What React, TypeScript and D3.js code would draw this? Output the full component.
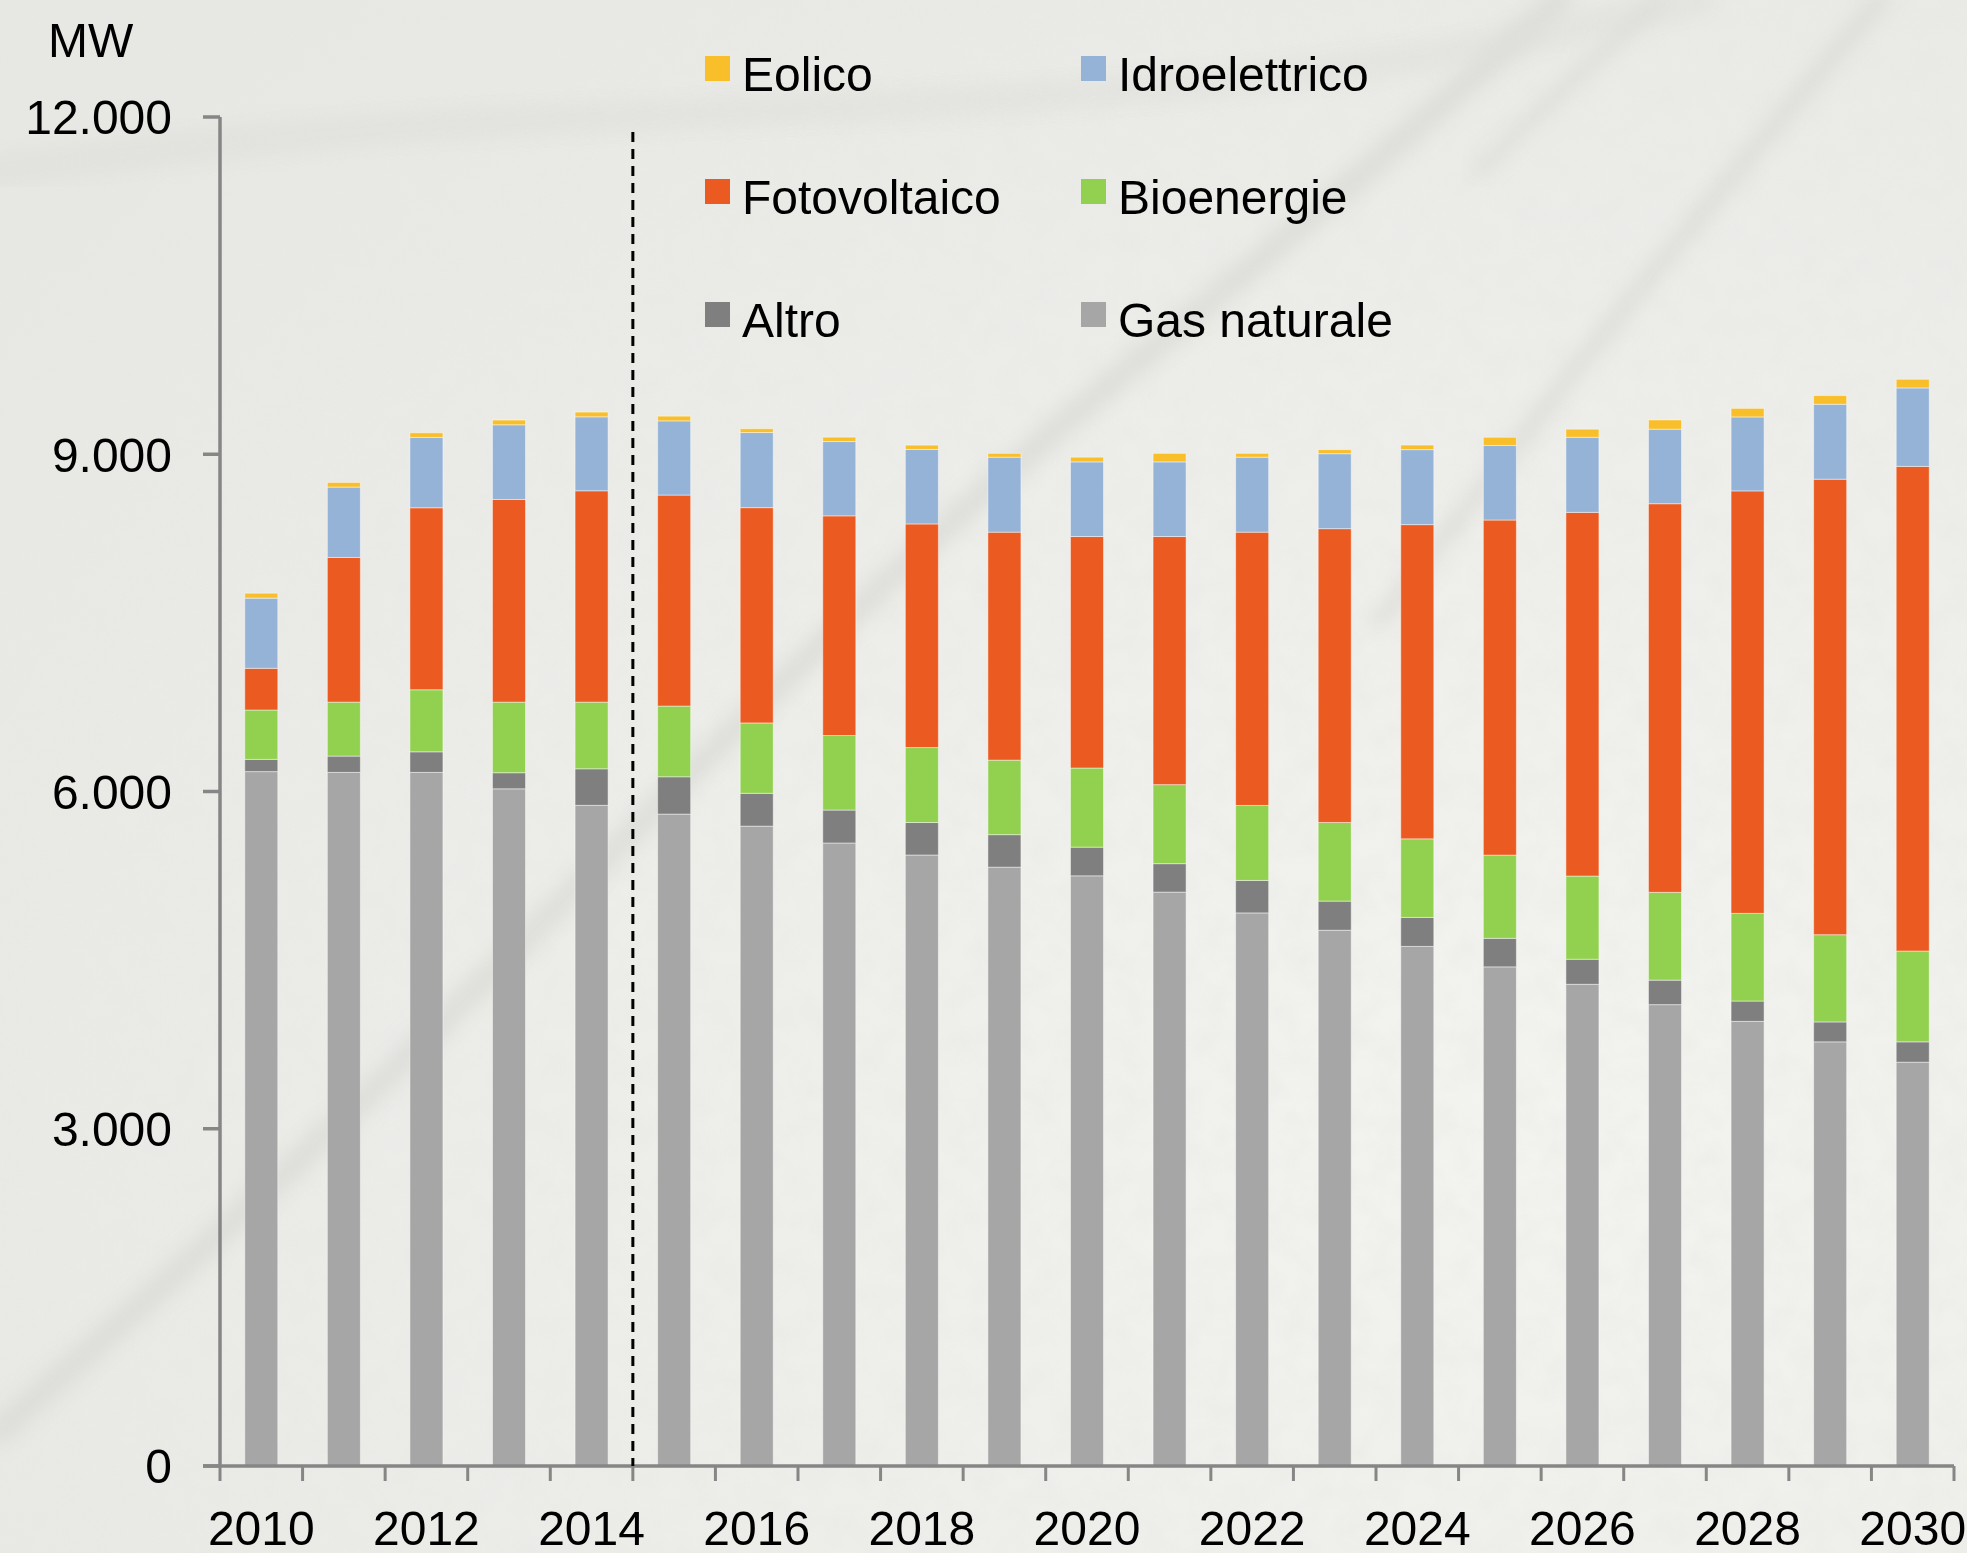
import React from 'react';
import * as d3 from 'd3';

// anni e valori (MW)
const years = ['2010','2011','2012','2013','2014','2015','2016','2017','2018','2019','2020',
  '2021','2022','2023','2024','2025','2026','2027','2028','2029','2030'];
const gas = [6177, 6170, 6170, 6024, 5877, 5799, 5692, 5542, 5435, 5327, 5250, 5105, 4920, 4766, 4622, 4440, 4285, 4104, 3955, 3773, 3592];
const altro = [109, 145, 183, 143, 325, 332, 292, 293, 289, 289, 255, 253, 289, 259, 258, 254, 223, 218, 181, 177, 181];
const bio = [439, 480, 552, 628, 593, 629, 626, 663, 667, 663, 704, 703, 667, 699, 699, 740, 740, 781, 780, 776, 808];
const pv = [371, 1287, 1619, 1803, 1880, 1877, 1915, 1954, 1989, 2028, 2059, 2207, 2431, 2614, 2795, 2981, 3235, 3457, 3758, 4052, 4311];
const hydro = [624, 626, 626, 664, 658, 660, 668, 661, 663, 667, 664, 664, 667, 667, 667, 663, 668, 663, 658, 667, 698];
const eolico = [44, 41, 41, 42, 42, 42, 34, 39, 38, 34, 42, 76, 34, 36, 41, 73, 72, 82, 76, 77, 77];

const seriesKeys = ['gas', 'altro', 'bio', 'pv', 'hydro', 'eolico'];
const seriesNames = ['Gas naturale', 'Altro', 'Bioenergie', 'Fotovoltaico', 'Idroelettrico', 'Eolico'];
const seriesColors = ['#a6a6a6', '#7f7f7f', '#92d050', '#eb5a20', '#95b3d7', '#f9bf2b'];
const yTicks = [0, 3000, 6000, 9000, 12000];
const lastHistoric = '2014';
// legenda: righe x colonne
const legendRows = [['Eolico', 'Idroelettrico'], ['Fotovoltaico', 'Bioenergie'], ['Altro', 'Gas naturale']];

const W = 1967, H = 1553;
const FONT = '"Liberation Sans", Arial, Helvetica, sans-serif';

const itFormat = d3.formatLocale({ decimal: ',', thousands: '.', grouping: [3], currency: ['€', ''] }).format(',');

export default function App() {
  const table = years.map((y, i) => ({
    year: y, gas: gas[i], altro: altro[i], bio: bio[i], pv: pv[i], hydro: hydro[i], eolico: eolico[i]
  }));
  const stacked = d3.stack<any>().keys(seriesKeys)(table);

  const x = d3.scaleBand().domain(years).range([220, 1954]).padding(0);
  const y = d3.scaleLinear().domain([0, 12000]).range([1466, 117]);
  const barW = x.bandwidth() * 0.4;
  const axisColor = '#868686';
  const dashX = (x(lastHistoric) as number) + x.bandwidth();
  const boundaries = d3.range(years.length + 1).map(i => 220 + i * x.step());

  // venature dello sfondo (solo decorazione)
  const vein = d3.line().curve(d3.curveBasis);

  return (
    <svg width={W} height={H} style={{ position: 'absolute', left: 0, top: 0, display: 'block' }}>
      <defs>
        <filter id="blur"><feGaussianBlur stdDeviation="9" /></filter>
        <filter id="blur2"><feGaussianBlur stdDeviation="3" /></filter>
        <radialGradient id="bg" cx="0.78" cy="0.72" r="0.95">
          <stop offset="0" stopColor="#f3f3f0" />
          <stop offset="1" stopColor="#e7e7e3" />
        </radialGradient>
        <filter id="tex" x="0" y="0" width="100%" height="100%">
          <feTurbulence type="fractalNoise" baseFrequency="0.035" numOctaves="3" seed="7" />
          <feColorMatrix type="matrix"
            values="0 0 0 0 0.80  0 0 0 0 0.80  0 0 0 0 0.78  1.6 0 0 0 -0.55" />
        </filter>
      </defs>
      <rect width={W} height={H} fill="url(#bg)" />
      <rect width={W} height={H} filter="url(#tex)" opacity={0.45} />
      <g fill="none" stroke="#d4d4d0" strokeLinecap="round" opacity={0.55}>
        <path d={vein([[0, 1430], [350, 1120], [700, 760], [1000, 470], [1300, 230], [1560, 0]]) as string} strokeWidth={26} filter="url(#blur)" />
        <path d={vein([[1380, 620], [1550, 400], [1720, 190], [1880, 0]]) as string} strokeWidth={18} filter="url(#blur)" />
        <path d={vein([[0, 170], [400, 120], [900, 110], [1400, 70], [1700, 0]]) as string} strokeWidth={30} filter="url(#blur)" opacity={0.5} />
        <path d={vein([[1480, 170], [1560, 90], [1660, 0]]) as string} strokeWidth={14} filter="url(#blur)" />
      </g>

      {/* barre impilate */}
      {stacked.map((s, si) => (
        <g key={seriesKeys[si]} fill={seriesColors[si]}>
          {s.map(d => (
            <rect key={d.data.year}
              x={(x(d.data.year) as number) + (x.bandwidth() - barW) / 2}
              y={y(d[1])}
              width={barW}
              height={y(d[0]) - y(d[1])}
              stroke="rgba(255,255,255,0.45)" strokeWidth={1} />
          ))}
        </g>
      ))}

      {/* asse y */}
      <line x1={220} x2={220} y1={y(12000)} y2={y(0)} stroke={axisColor} strokeWidth={3.5} />
      {yTicks.map(t => (
        <g key={t}>
          <line x1={203} x2={220} y1={y(t)} y2={y(t)} stroke={axisColor} strokeWidth={3.5} />
          <text x={172} y={y(t)} dy="0.36em" textAnchor="end" fontFamily={FONT} fontSize={48} fill="#000">{itFormat(t)}</text>
        </g>
      ))}
      <text x={48} y={57} fontFamily={FONT} fontSize={48} fill="#000">MW</text>

      {/* asse x */}
      <line x1={203} x2={1954} y1={y(0)} y2={y(0)} stroke={axisColor} strokeWidth={3.5} />
      {boundaries.map((bx, i) => (
        <line key={i} x1={bx} x2={bx} y1={y(0)} y2={y(0) + 15} stroke={axisColor} strokeWidth={3} />
      ))}
      {years.filter((_, i) => i % 2 === 0).map(yr => (
        <text key={yr} x={(x(yr) as number) + x.bandwidth() / 2} y={1545} textAnchor="middle"
          fontFamily={FONT} fontSize={48} fill="#000">{yr}</text>
      ))}

      {/* separazione storico / previsione */}
      <line x1={dashX} x2={dashX} y1={132} y2={y(0)} stroke="#000" strokeWidth={3} strokeDasharray="10,7" />

      {/* legenda */}
      {legendRows.map((row, ri) => row.map((name, ci) => {
        const idx = seriesNames.indexOf(name);
        const lx = ci === 0 ? 705 : 1081;
        const ly = 56 + ri * 123;
        return (
          <g key={name}>
            <rect x={lx} y={ly} width={25} height={25} fill={seriesColors[idx]} />
            <text x={lx + 37} y={ly + 35} fontFamily={FONT} fontSize={48} fill="#000">{name}</text>
          </g>
        );
      }))}
    </svg>
  );
}
